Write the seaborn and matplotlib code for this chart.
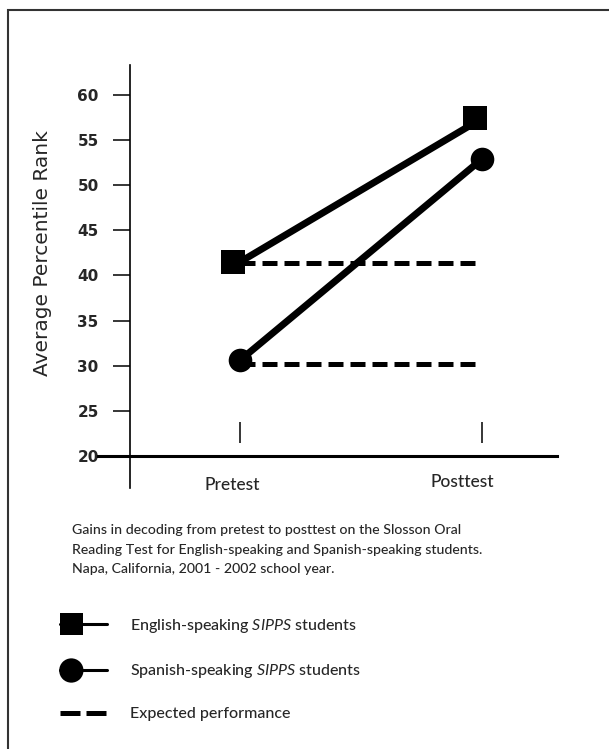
import matplotlib
matplotlib.use("Agg")
import matplotlib.pyplot as plt
import seaborn as sns
import pandas as pd
from matplotlib.lines import Line2D
from matplotlib.markers import MarkerStyle
from matplotlib.patches import Rectangle
from matplotlib.transforms import Affine2D

# Values
tests = ['Pretest', 'Posttest']
groups = ['English', 'Spanish']
english_rank = [41.5, 57.4]
spanish_rank = [30.6, 52.9]
expected_rank = [41.4, 30.2]  # English, Spanish
yticks = [20, 25, 30, 35, 40, 45, 50, 55, 60]
legend_labels = ['English-speaking $\\mathit{SIPPS}$ students',
                 'Spanish-speaking $\\mathit{SIPPS}$ students',
                 'Expected performance']
caption = ['Gains in decoding from pretest to posttest on the Slosson Oral',
           'Reading Test for English-speaking and Spanish-speaking students.',
           'Napa, California, 2001 - 2002 school year.']

df = pd.DataFrame({'group': [g for g in groups for _ in tests],
                   'test': tests * 2,
                   'rank': english_rank + spanish_rank})
exp_df = pd.DataFrame({'group': [g for g in groups for _ in tests],
                       'test': tests * 2,
                       'rank': [v for v in expected_rank for _ in tests]})

# Style
sns.set_style("white")
plt.rcParams['font.family'] = ['Lato', 'DejaVu Sans']
plt.rcParams['mathtext.fontset'] = 'custom'
plt.rcParams['mathtext.rm'] = 'Lato'
plt.rcParams['mathtext.it'] = 'Lato:italic'

black = {'English': 'black', 'Spanish': 'black'}

fig = plt.figure(figsize=(6.09, 7.49), dpi=100)
ax = fig.add_axes([0.1609, 0.3485, 0.7537, 0.5647])

# expected performance (dashed)
sns.lineplot(data=exp_df, x='test', y='rank', hue='group', style='group',
             palette=black, dashes=[(3, 1.4), (3, 1.4)], lw=3.6,
             legend=False, ax=ax, zorder=1)

# observed ranks
square = MarkerStyle('s', transform=Affine2D().translate(-0.3, 0))
sns.lineplot(data=df, x='test', y='rank', hue='group', style='group',
             palette=black, markers={'English': square, 'Spanish': 'o'},
             dashes=False, lw=5, ms=17, mew=0, mec='black',
             legend=False, ax=ax, zorder=2)

# Axes look
ax.set_xlim(-0.587, 1.31)
ax.set_ylim(16.45, 63.32)
ax.spines['top'].set_visible(False)
ax.spines['right'].set_visible(False)
ax.spines['left'].set_position(('data', -0.455))
ax.spines['bottom'].set_position(('data', 20))
ax.spines['left'].set_linewidth(1.2)
ax.spines['bottom'].set_linewidth(2.2)
ax.spines['left'].set_color('black')
ax.spines['bottom'].set_color('black')

ax.set_yticks(yticks)
ax.tick_params(axis='y', direction='out', length=12, width=1.1, pad=10.5,
               labelsize=11, left=True, color='black')
plt.setp(ax.get_yticklabels(), fontweight='bold', family='DejaVu Sans')
ax.set_xticks([])
ax.set_xlabel('')
ax.set_ylabel('')

# short marks above each test position
ax.vlines(range(len(tests)), 21.45, 23.75, color='black', lw=1.1)

# test names
for i, (name, dx, dy) in enumerate(zip(tests, [-5.8, -14.4], [-21, -18.7])):
    ax.annotate(name, (i, 20), xytext=(dx, dy), textcoords='offset points',
                ha='center', va='center', fontsize=12.5, fontweight='medium',
                annotation_clip=False)

fig.text(43 / 609, 1 - 253 / 749, 'Average Percentile Rank', rotation=90,
         ha='center', va='center', fontsize=14.5, family='DejaVu Sans')

# caption
for k, line in enumerate(caption):
    fig.text(72 / 609, 1 - (530 + 19.5 * k) / 749, line, fontsize=10.2,
             va='center', fontweight='medium')

# legend
handles = [
    Line2D([], [], color='black', lw=2.2, ms=16.5, mew=0,
           marker=MarkerStyle('s', transform=Affine2D().translate(-0.5, 0))),
    Line2D([], [], color='black', lw=2.2, ms=17.5, mew=0,
           marker=MarkerStyle('o', transform=Affine2D().translate(-0.5, 0))),
    Line2D([], [], color='black', lw=3.6, dashes=(4, 1.2)),
]
fig.legend(handles, legend_labels, loc='upper left',
           bbox_to_anchor=(60 / 609, 1 - 617 / 749), frameon=False,
           prop={'size': 11.5, 'weight': 'medium'},
           handlelength=2.94, handletextpad=1.44,
           labelspacing=1.7, borderpad=0, borderaxespad=0)

# page frame (top and left edges)
fig.add_artist(Rectangle((8 / 609, -0.05), 1.2, 1 - 10 / 749 + 0.05,
                         transform=fig.transFigure, fill=False,
                         lw=1.5, ec='#333333'))

fig.savefig('out.png', dpi=100)
